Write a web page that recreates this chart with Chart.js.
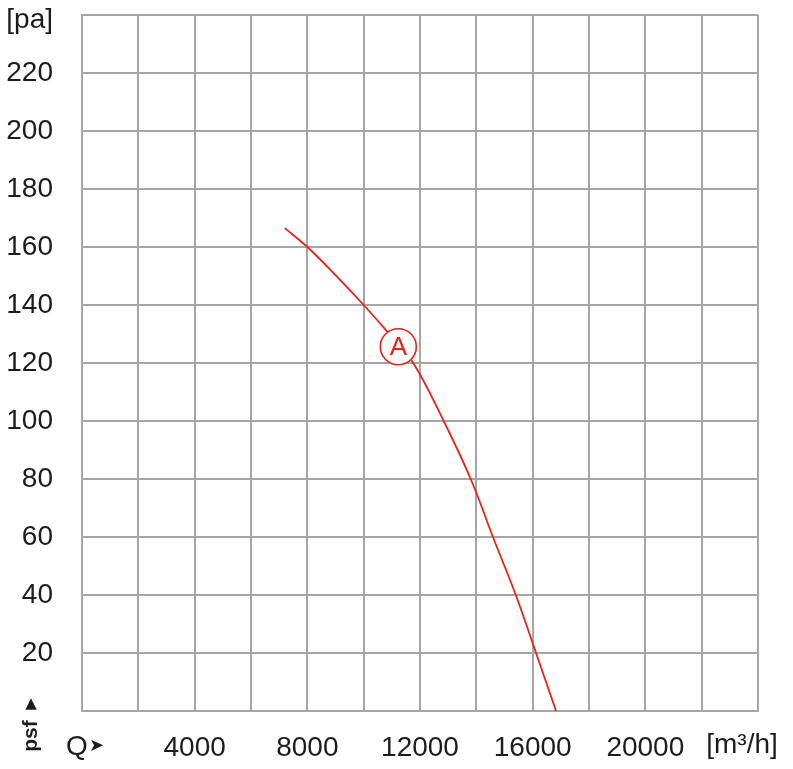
<!DOCTYPE html>
<html>
<head>
<meta charset="utf-8">
<script src="https://cdn.jsdelivr.net/npm/chart.js@4"></script>
<style>
html,body{margin:0;padding:0;background:#fff;}
canvas{display:block;}
</style>
</head>
<body>
<canvas id="c" width="793" height="769"></canvas>
<script>
// Data
const flowQ = [7200, 8000, 9000, 10000, 11000, 11760, 12840, 13800, 14590, 15400, 16120, 16830];
const pressure = [166.5, 160, 150.3, 140, 129, 120, 100, 80, 60, 40, 20, 0];
const curveLabel = 'A';
const curveLabelAt = [11230, 125.6];
const xTickLabels = ['4000', '8000', '12000', '16000', '20000'];
const xUnit = '[m³/h]';
const yUnit = '[pa]';
const xSymbol = 'Q';
const ySymbol = 'psf';

const RED = '#e5231b';
const GRID = '#a6a6a6';
const TXT = '#1c1c1c';
const FONT = '"Liberation Sans", Arial, Helvetica, sans-serif';

const extras = {
  id: 'extras',
  afterDatasetsDraw(chart) {
    const ctx = chart.ctx;
    const xs = chart.scales.x, ys = chart.scales.y;
    const cx = xs.getPixelForValue(curveLabelAt[0]);
    const cy = ys.getPixelForValue(curveLabelAt[1]);
    ctx.save();
    ctx.beginPath();
    ctx.arc(cx, cy, 18, 0, Math.PI * 2);
    ctx.fillStyle = '#fff';
    ctx.fill();
    ctx.lineWidth = 1.6;
    ctx.strokeStyle = RED;
    ctx.stroke();
    ctx.fillStyle = RED;
    ctx.font = '26px ' + FONT;
    ctx.textAlign = 'center';
    ctx.textBaseline = 'middle';
    ctx.fillText(curveLabel, cx, cy + 1);
    ctx.restore();
  },
  afterDraw(chart) {
    const ctx = chart.ctx;
    const area = chart.chartArea;
    ctx.save();
    ctx.fillStyle = TXT;
    ctx.textBaseline = 'middle';
    ctx.font = '28px ' + FONT;
    ctx.textAlign = 'right';
    ctx.fillText(yUnit, area.left - 29, area.top + 5);
    ctx.textAlign = 'center';
    ctx.fillText(xUnit, area.right - 16, 745);
    ctx.textAlign = 'left';
    ctx.fillText(xSymbol, 66, 747);
    ctx.font = '18px "DejaVu Sans", sans-serif';
    ctx.fillText('➤', 89, 746);
    ctx.font = '15px "DejaVu Sans", sans-serif';
    ctx.textAlign = 'center';
    ctx.fillText('▲', 31, 704);
    ctx.translate(31, 736);
    ctx.rotate(-Math.PI / 2);
    ctx.font = 'bold 21px ' + FONT;
    ctx.fillText(ySymbol, 0, 0);
    ctx.restore();
  }
};

new Chart(document.getElementById('c'), {
  type: 'line',
  data: {
    datasets: [{
      data: flowQ.map((q, i) => ({x: q, y: pressure[i]})),
      borderColor: RED,
      borderWidth: 1.8,
      pointRadius: 0,
      fill: false,
      tension: 0.4
    }]
  },
  options: {
    responsive: false,
    animation: false,
    devicePixelRatio: 1,
    layout: {padding: {top: 15, right: 35, left: 0, bottom: 0}},
    plugins: {legend: {display: false}, tooltip: {enabled: false}},
    scales: {
      x: {
        type: 'linear',
        min: 0, max: 24000,
        afterFit(s) { s.height = 58; s.paddingLeft = 0; s.paddingRight = 0; },
        border: {display: true, color: GRID, width: 2},
        grid: {color: GRID, lineWidth: 2, drawTicks: false},
        ticks: {
          stepSize: 2000,
          autoSkip: false,
          maxRotation: 0,
          padding: 20,
          color: TXT,
          font: {family: FONT, size: 28},
          callback(v) {
            const s = String(v);
            return xTickLabels.includes(s) ? s : '';
          }
        }
      },
      y: {
        min: 0, max: 240,
        afterFit(s) { s.width = 82; s.paddingTop = 0; s.paddingBottom = 0; },
        border: {display: true, color: GRID, width: 2},
        grid: {color: GRID, lineWidth: 2, drawTicks: false},
        ticks: {
          stepSize: 20,
          padding: 29,
          color: TXT,
          font: {family: FONT, size: 28},
          callback(v) {
            if (v === 240 || v === 0) return '';
            return String(v);
          }
        }
      }
    }
  },
  plugins: [extras]
});
</script>
</body>
</html>
